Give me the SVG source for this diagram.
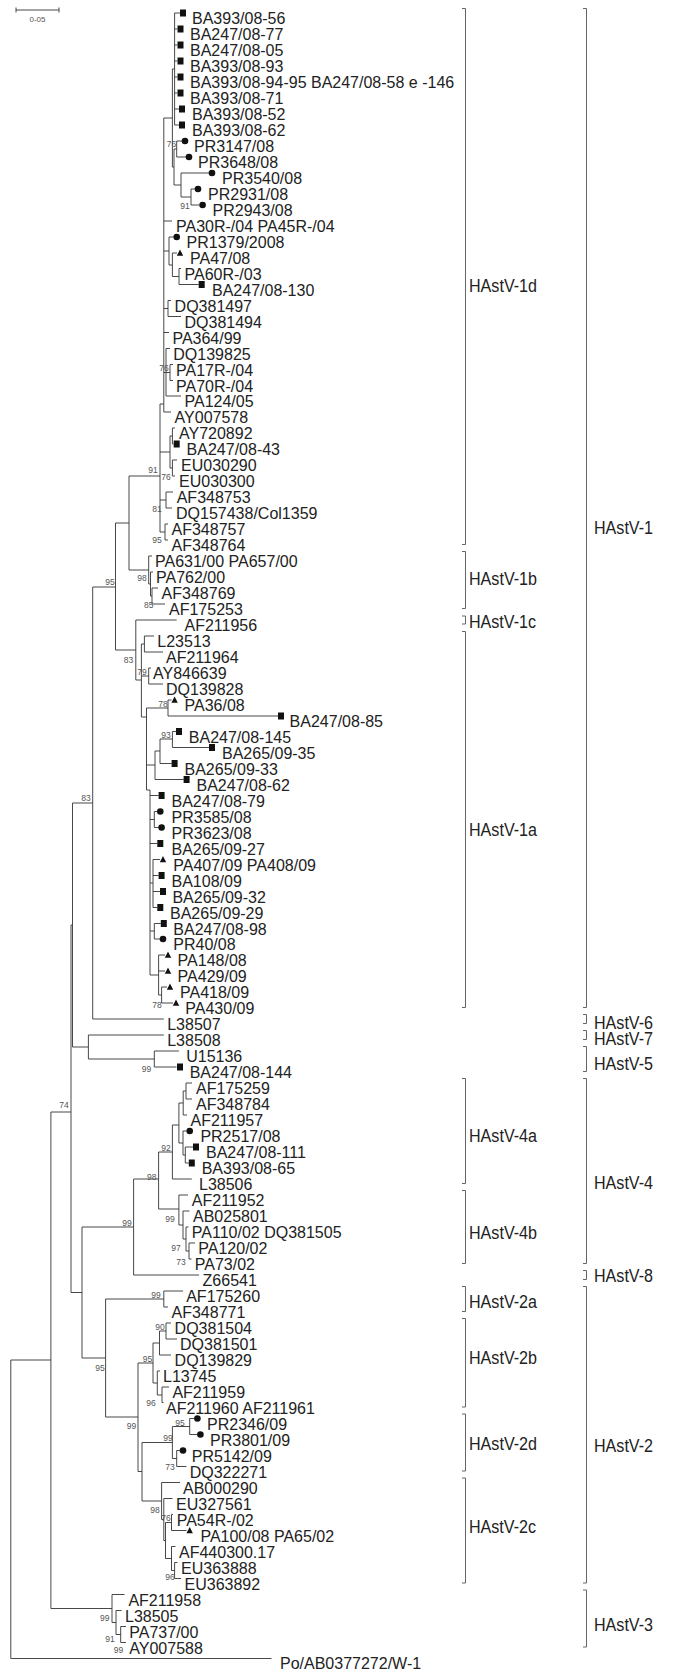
<svg xmlns="http://www.w3.org/2000/svg" width="684" height="1672" viewBox="0 0 684 1672">
<style>
.br{fill:none;stroke:#333;stroke-width:0.9}
.bk{fill:none;stroke:#555;stroke-width:0.9}
.lf{font-family:"Liberation Sans",Arial,sans-serif;font-size:16px;fill:#222}
.cl{font-family:"Liberation Sans",Arial,sans-serif;font-size:17.5px;fill:#222}
.bs{font-family:"Liberation Sans",Arial,sans-serif;font-size:8.5px;fill:#555;text-anchor:middle}
.mk{fill:#111}
</style>
<defs>
<rect id="sq" x="-3" y="-3.5" width="6" height="7"/>
<circle id="ci" r="3.3"/>
<path id="tr" d="M0,-3.6 L3.2,2.8 L-3.2,2.8 Z"/>
</defs>
<rect width="684" height="1672" fill="#fff"/>
<g id="scale-bar">
<path class="br" d="M16 10H59M16 7.5V12.5M59 7.5V12.5"/>
<text x="37.5" y="21.5" class="bs" style="font-size:8px">0-05</text>
</g>
<g id="branches">
<path class="br" d="M10.8 1360V1658.5M10.8 1658.5H271.5M10.8 1360H50.9M50.9 1112V1608.5M50.9 1112H71M50.9 1608.5H112M71 925V1292.5M71 925H72.5M71 1292.5H82M72.5 803V1047M72.5 803H92.7M72.5 1047H88.4M88.4 1035V1059M88.4 1035H163.8M88.4 1059H154.3M154.3 1051V1067M154.3 1051H178.9M154.3 1067H176.5M92.7 587V1019M92.7 1019H163.8M92.7 587H115.5M115.5 523V650M115.5 523H129M115.5 650H135.8M129 476V570M129 476H160M129 570H148.7"/>
<path class="br" d="M148.7 556V584M148.7 556H152M148.7 584H150.5M150.5 572V596M150.5 572H153M150.5 596H152M152 588V604M152 588H158M152 604H165"/>
<path class="br" d="M160 404V532M160 404H163.8M160 452H170M170 436V468M170 436H172.4M170 468H172.4M172.4 428V444M172.4 428H175M172.4 444H173.5M172.4 460V476M172.4 460H177M172.4 476H175M160 500H166M166 492V508M166 492H173M166 508H172M160 532H165M165 524V540M165 524H168M165 540H168M163.8 118V412M163.8 118H172.4M172.4 69V167M172.4 69H174.6M174.6 13V125M174.6 13H180M174.6 29H177.5M174.6 45H177.5M174.6 61H177.5M174.6 77H177.5M174.6 93H177.5M174.6 109H179M174.6 125H179M172.4 167H174M174 149V185M174 149H176.7M176.7 141V157M176.7 141H182M176.7 157H186M174 185H181M181 173V197M181 173H209M181 197H191M191 189V205M191 189H195M191 205H199.5M163.8 221H172M163.8 251H169M169 237V265M169 237H173.5M169 265H172.4M172.4 253V276.5M172.4 253H177M172.4 276.5H179M179 268.5V284.5M179 268.5H181M179 284.5H198.7M163.8 308.5H168M168 300.5V316.5M168 300.5H171M168 316.5H181M163.8 332.5H169M163.8 372.5H166M166 348.5V396M166 348.5H170M166 372.5H170M170 364.5V380.5M170 364.5H173M170 380.5H173M166 396H181M163.8 412H171"/>
<path class="br" d="M135.8 620V680M135.8 620H176.7M135.8 680H141.4M141.4 644V717M141.4 644H144.4M144.4 636V652M144.4 636H154M144.4 652H163M141.4 676H148.7M148.7 668V684M148.7 668H151M148.7 684H163M141.4 717H146.5M146.5 708V790M146.5 708H168M168 700V716M168 700H171.5M168 716H278M146.5 765H155M155 751V779.5M155 751H160M160 739V763.5M160 739H172.4M172.4 731.5V747.5M172.4 731.5H176M172.4 747.5H209M160 763.5H171.6M155 779.5H183.6M146.5 790H150M150 790V975M150 795.5H158.6M150 819.5H154.3M154.3 811.5V827.5M154.3 811.5H157.3M154.3 827.5H158.6M150 843.5H157.3M150 883H153M153 859.5V907.5M153 859.5H160M153 875.5H158.6M153 891.5H160M153 907.5H157.3M150 931H154.3M154.3 923.5V939M154.3 923.5H160.8M154.3 939H160M150 975H158.6M158.6 955V995M158.6 955H165M158.6 971H165M158.6 995H161.6M161.6 987V1003M161.6 987H167M161.6 1003H173"/>
<path class="br" d="M82 1227V1358M82 1227H133.6M82 1358H105.6M133.6 1179V1275M133.6 1179H158.6M133.6 1275H199M158.6 1152V1209M158.6 1152H172.4M158.6 1209H178.9M172.4 1125V1179M172.4 1125H178.9M172.4 1179H191.8M178.9 1103V1143M178.9 1103H183.2M178.9 1143H183M183.2 1091V1115M183.2 1091H186M186 1083V1099M186 1083H192M186 1099H192M183.2 1115H187M183 1131V1155M183 1131H186.5M183 1155H185.3M185.3 1147V1163M185.3 1147H193M185.3 1163H188.8M178.9 1195V1225M178.9 1195H188M178.9 1225H183M183 1211V1239M183 1211H189.5M183 1239H186M186 1227V1251M186 1227H188.5M186 1251H189M189 1243V1259M189 1243H195M189 1259H191.5"/>
<path class="br" d="M105.6 1299V1417M105.6 1299H163.8M105.6 1417H138M163.8 1291V1307M163.8 1291H183M163.8 1307H168M138 1363V1471.5M138 1363H153M138 1471.5H142M153 1343V1383M153 1343H159.5M159.5 1331V1355M159.5 1331H166M166 1323V1339M166 1323H171M166 1339H177M159.5 1355H171M153 1383H157.3M157.3 1371V1395M157.3 1371H160M157.3 1395H162M162 1387V1402.5M162 1387H169M162 1402.5H163.5M142 1442.5V1501M142 1442.5H172.4M142 1501H161.6M172.4 1426.5V1458.5M172.4 1426.5H189.7M189.7 1418.5V1434.5M189.7 1418.5H194.2M189.7 1434.5H197.2M172.4 1458.5H176.7M176.7 1450.5V1466.5M176.7 1450.5H179.8M176.7 1466.5H186.5M161.6 1482.5V1519.5M161.6 1482.5H180M161.6 1519.5H163.8M163.8 1498.5V1540.5M163.8 1498.5H172.5M163.8 1540.5H165.5M165.5 1522.5V1558.5M165.5 1522.5H171.5M171.5 1514.5V1530.5M171.5 1514.5H173M171.5 1530.5H186.5M165.5 1558.5H171.5M171.5 1546.5V1570.5M171.5 1546.5H175.5M171.5 1570.5H174.6M174.6 1562.5V1578.5M174.6 1562.5H177.5M174.6 1578.5H181"/>
<path class="br" d="M112 1594.5V1622.5M112 1594.5H124.5M112 1622.5H116M116 1610.5V1634.5M116 1610.5H121.5M116 1634.5H120.7M120.7 1626.5V1642.5M120.7 1626.5H126M120.7 1642.5H126"/>
</g>
<g id="bootstrap">
<text class="bs" x="171.5" y="147">76</text>
<text class="bs" x="185" y="208.7">91</text>
<text class="bs" x="164" y="371">76</text>
<text class="bs" x="153" y="473">91</text>
<text class="bs" x="166" y="480">76</text>
<text class="bs" x="157" y="512">81</text>
<text class="bs" x="157" y="543">95</text>
<text class="bs" x="142" y="581">98</text>
<text class="bs" x="148.7" y="608">85</text>
<text class="bs" x="110" y="585">95</text>
<text class="bs" x="128.4" y="663">83</text>
<text class="bs" x="142" y="674.7">79</text>
<text class="bs" x="163" y="707">78</text>
<text class="bs" x="166" y="738">93</text>
<text class="bs" x="86" y="801">83</text>
<text class="bs" x="157" y="1008">78</text>
<text class="bs" x="146.5" y="1072">99</text>
<text class="bs" x="64" y="1108">74</text>
<text class="bs" x="166" y="1151">92</text>
<text class="bs" x="151.7" y="1179.7">98</text>
<text class="bs" x="127" y="1226">99</text>
<text class="bs" x="170" y="1222">99</text>
<text class="bs" x="176" y="1251">97</text>
<text class="bs" x="181" y="1264.7">73</text>
<text class="bs" x="156" y="1298">99</text>
<text class="bs" x="160" y="1329.7">90</text>
<text class="bs" x="147.4" y="1362">95</text>
<text class="bs" x="100" y="1371">95</text>
<text class="bs" x="151" y="1406">96</text>
<text class="bs" x="180" y="1425.7">95</text>
<text class="bs" x="131.5" y="1428.7">99</text>
<text class="bs" x="168" y="1441">99</text>
<text class="bs" x="170" y="1469.7">73</text>
<text class="bs" x="155" y="1513">98</text>
<text class="bs" x="166" y="1521">76</text>
<text class="bs" x="170" y="1580">96</text>
<text class="bs" x="104.7" y="1621">99</text>
<text class="bs" x="110" y="1641.7">91</text>
<text class="bs" x="118.5" y="1653">99</text>
</g>
<g id="leaves" class="lf">
<g id="n1"><use href="#sq" class="mk" x="183" y="13"/><text x="192" y="24">BA393/08-56</text></g>
<g id="n2"><use href="#sq" class="mk" x="180.5" y="29"/><text x="190" y="40">BA247/08-77</text></g>
<g id="n3"><use href="#sq" class="mk" x="180.5" y="45"/><text x="190" y="56">BA247/08-05</text></g>
<g id="n4"><use href="#sq" class="mk" x="180.5" y="61"/><text x="190" y="72">BA393/08-93</text></g>
<g id="n5"><use href="#sq" class="mk" x="180.5" y="77"/><text x="190" y="88">BA393/08-94-95 BA247/08-58 e -146</text></g>
<g id="n6"><use href="#sq" class="mk" x="180.5" y="93"/><text x="190" y="104">BA393/08-71</text></g>
<g id="n7"><use href="#sq" class="mk" x="182" y="109"/><text x="192" y="120">BA393/08-52</text></g>
<g id="n8"><use href="#sq" class="mk" x="182" y="125"/><text x="192" y="136">BA393/08-62</text></g>
<g id="n9"><use href="#ci" class="mk" x="185" y="141"/><text x="194" y="152">PR3147/08</text></g>
<g id="n10"><use href="#ci" class="mk" x="189" y="157"/><text x="198" y="168">PR3648/08</text></g>
<g id="n11"><use href="#ci" class="mk" x="212" y="173"/><text x="222" y="184">PR3540/08</text></g>
<g id="n12"><use href="#ci" class="mk" x="198" y="189"/><text x="208" y="200">PR2931/08</text></g>
<g id="n13"><use href="#ci" class="mk" x="202.6" y="205"/><text x="212.5" y="216">PR2943/08</text></g>
<g id="n14"><text x="176" y="232">PA30R-/04 PA45R-/04</text></g>
<g id="n15"><use href="#ci" class="mk" x="176.7" y="237"/><text x="186.6" y="248">PR1379/2008</text></g>
<g id="n16"><use href="#tr" class="mk" x="180" y="253"/><text x="190" y="264">PA47/08</text></g>
<g id="n17"><text x="184.5" y="279.5">PA60R-/03</text></g>
<g id="n18"><use href="#sq" class="mk" x="201.7" y="284.5"/><text x="212" y="295.5">BA247/08-130</text></g>
<g id="n19"><text x="174.6" y="311.5">DQ381497</text></g>
<g id="n20"><text x="184.5" y="327.5">DQ381494</text></g>
<g id="n21"><text x="172.4" y="343.5">PA364/99</text></g>
<g id="n22"><text x="173.3" y="359.5">DQ139825</text></g>
<g id="n23"><text x="176" y="375.5">PA17R-/04</text></g>
<g id="n24"><text x="176" y="391.5">PA70R-/04</text></g>
<g id="n25"><text x="184.5" y="407">PA124/05</text></g>
<g id="n26"><text x="174.6" y="423">AY007578</text></g>
<g id="n27"><text x="179" y="439">AY720892</text></g>
<g id="n28"><use href="#sq" class="mk" x="176.7" y="444"/><text x="186.6" y="455">BA247/08-43</text></g>
<g id="n29"><text x="181" y="471">EU030290</text></g>
<g id="n30"><text x="179" y="487">EU030300</text></g>
<g id="n31"><text x="176.7" y="503">AF348753</text></g>
<g id="n32"><text x="176" y="519">DQ157438/Col1359</text></g>
<g id="n33"><text x="171.5" y="535">AF348757</text></g>
<g id="n34"><text x="171.5" y="551">AF348764</text></g>
<g id="n35"><text x="155" y="567">PA631/00 PA657/00</text></g>
<g id="n36"><text x="156" y="583">PA762/00</text></g>
<g id="n37"><text x="161.6" y="599">AF348769</text></g>
<g id="n38"><text x="169" y="615">AF175253</text></g>
<g id="n39"><text x="184.5" y="631">AF211956</text></g>
<g id="n40"><text x="157.3" y="647">L23513</text></g>
<g id="n41"><text x="166" y="663">AF211964</text></g>
<g id="n42"><text x="153" y="679">AY846639</text></g>
<g id="n43"><text x="166" y="695">DQ139828</text></g>
<g id="n44"><use href="#tr" class="mk" x="174.6" y="700"/><text x="184.5" y="711">PA36/08</text></g>
<g id="n45"><use href="#sq" class="mk" x="281" y="716"/><text x="289.6" y="727">BA247/08-85</text></g>
<g id="n46"><use href="#sq" class="mk" x="179" y="731.5"/><text x="188.8" y="742.5">BA247/08-145</text></g>
<g id="n47"><use href="#sq" class="mk" x="212" y="747.5"/><text x="222" y="758.5">BA265/09-35</text></g>
<g id="n48"><use href="#sq" class="mk" x="174.6" y="763.5"/><text x="184.5" y="774.5">BA265/09-33</text></g>
<g id="n49"><use href="#sq" class="mk" x="186.6" y="779.5"/><text x="196.5" y="790.5">BA247/08-62</text></g>
<g id="n50"><use href="#sq" class="mk" x="161.6" y="795.5"/><text x="171.5" y="806.5">BA247/08-79</text></g>
<g id="n51"><use href="#ci" class="mk" x="160.3" y="811.5"/><text x="171.5" y="822.5">PR3585/08</text></g>
<g id="n52"><use href="#ci" class="mk" x="161.6" y="827.5"/><text x="171.5" y="838.5">PR3623/08</text></g>
<g id="n53"><use href="#sq" class="mk" x="160.3" y="843.5"/><text x="171.5" y="854.5">BA265/09-27</text></g>
<g id="n54"><use href="#tr" class="mk" x="163" y="859.5"/><text x="173.3" y="870.5">PA407/09 PA408/09</text></g>
<g id="n55"><use href="#sq" class="mk" x="161.6" y="875.5"/><text x="171.5" y="886.5">BA108/09</text></g>
<g id="n56"><use href="#sq" class="mk" x="163" y="891.5"/><text x="172.4" y="902.5">BA265/09-32</text></g>
<g id="n57"><use href="#sq" class="mk" x="160.3" y="907.5"/><text x="170" y="918.5">BA265/09-29</text></g>
<g id="n58"><use href="#sq" class="mk" x="163.8" y="923.5"/><text x="173.3" y="934.5">BA247/08-98</text></g>
<g id="n59"><use href="#ci" class="mk" x="163" y="939"/><text x="173.3" y="950">PR40/08</text></g>
<g id="n60"><use href="#tr" class="mk" x="168" y="955"/><text x="177.6" y="966">PA148/08</text></g>
<g id="n61"><use href="#tr" class="mk" x="168" y="971"/><text x="177.6" y="982">PA429/09</text></g>
<g id="n62"><use href="#tr" class="mk" x="170" y="987"/><text x="180" y="998">PA418/09</text></g>
<g id="n63"><use href="#tr" class="mk" x="176" y="1003"/><text x="185.3" y="1014">PA430/09</text></g>
<g id="n64"><text x="167.2" y="1030">L38507</text></g>
<g id="n65"><text x="167.2" y="1046">L38508</text></g>
<g id="n66"><text x="186.2" y="1062">U15136</text></g>
<g id="n67"><use href="#sq" class="mk" x="180" y="1067"/><text x="189.7" y="1078">BA247/08-144</text></g>
<g id="n68"><text x="196" y="1094">AF175259</text></g>
<g id="n69"><text x="196" y="1110">AF348784</text></g>
<g id="n70"><text x="190.5" y="1126">AF211957</text></g>
<g id="n71"><use href="#ci" class="mk" x="189.7" y="1131"/><text x="200.4" y="1142">PR2517/08</text></g>
<g id="n72"><use href="#sq" class="mk" x="196" y="1147"/><text x="206" y="1158">BA247/08-111</text></g>
<g id="n73"><use href="#sq" class="mk" x="191.8" y="1163"/><text x="201.7" y="1174">BA393/08-65</text></g>
<g id="n74"><text x="199" y="1190">L38506</text></g>
<g id="n75"><text x="191.8" y="1206">AF211952</text></g>
<g id="n76"><text x="193" y="1222">AB025801</text></g>
<g id="n77"><text x="191.8" y="1238">PA110/02 DQ381505</text></g>
<g id="n78"><text x="198.3" y="1254">PA120/02</text></g>
<g id="n79"><text x="194.8" y="1270">PA73/02</text></g>
<g id="n80"><text x="202.6" y="1286">Z66541</text></g>
<g id="n81"><text x="186.2" y="1302">AF175260</text></g>
<g id="n82"><text x="171.5" y="1318">AF348771</text></g>
<g id="n83"><text x="174.6" y="1334">DQ381504</text></g>
<g id="n84"><text x="180" y="1350">DQ381501</text></g>
<g id="n85"><text x="174.6" y="1366">DQ139829</text></g>
<g id="n86"><text x="163" y="1382">L13745</text></g>
<g id="n87"><text x="172.4" y="1398">AF211959</text></g>
<g id="n88"><text x="166" y="1413.5">AF211960 AF211961</text></g>
<g id="n89"><use href="#ci" class="mk" x="197.4" y="1418.5"/><text x="207" y="1429.5">PR2346/09</text></g>
<g id="n90"><use href="#ci" class="mk" x="200.4" y="1434.5"/><text x="210" y="1445.5">PR3801/09</text></g>
<g id="n91"><use href="#ci" class="mk" x="183" y="1450.5"/><text x="191.8" y="1461.5">PR5142/09</text></g>
<g id="n92"><text x="189.7" y="1477.5">DQ322271</text></g>
<g id="n93"><text x="183" y="1493.5">AB000290</text></g>
<g id="n94"><text x="176" y="1509.5">EU327561</text></g>
<g id="n95"><text x="176.7" y="1525.5">PA54R-/02</text></g>
<g id="n96"><use href="#tr" class="mk" x="189.7" y="1530.5"/><text x="200.4" y="1541.5">PA100/08 PA65/02</text></g>
<g id="n97"><text x="179" y="1557.5">AF440300.17</text></g>
<g id="n98"><text x="181" y="1573.5">EU363888</text></g>
<g id="n99"><text x="184.5" y="1589.5">EU363892</text></g>
<g id="n100"><text x="128.4" y="1605.5">AF211958</text></g>
<g id="n101"><text x="125" y="1621.5">L38505</text></g>
<g id="n102"><text x="129.3" y="1637.5">PA737/00</text></g>
<g id="n103"><text x="129.3" y="1653.5">AY007588</text></g>
<g id="n104"><text x="280" y="1669.3">Po/AB0377272/W-1</text></g>
</g>
<g id="clades">
<g id="c1d"><path class="bk" d="M462 8.5H465.5V544.5H462"/><text class="cl" x="469" y="291.5" textLength="68" lengthAdjust="spacingAndGlyphs">HAstV-1d</text></g>
<g id="c1b"><path class="bk" d="M462 551.5H465.5V608.5H462"/><text class="cl" x="469" y="584.5" textLength="68" lengthAdjust="spacingAndGlyphs">HAstV-1b</text></g>
<g id="c1c"><path class="bk" d="M462 616H465.5V624H462"/><text class="cl" x="469" y="628" textLength="67" lengthAdjust="spacingAndGlyphs">HAstV-1c</text></g>
<g id="c1a"><path class="bk" d="M462 631.5H465.5V1007.5H462"/><text class="cl" x="469" y="835.5" textLength="68" lengthAdjust="spacingAndGlyphs">HAstV-1a</text></g>
<g id="c4a"><path class="bk" d="M462 1078.5H465.5V1183.5H462"/><text class="cl" x="469" y="1141.5" textLength="68" lengthAdjust="spacingAndGlyphs">HAstV-4a</text></g>
<g id="c4b"><path class="bk" d="M462 1190.5H465.5V1263.5H462"/><text class="cl" x="469" y="1238.5" textLength="68" lengthAdjust="spacingAndGlyphs">HAstV-4b</text></g>
<g id="c2a"><path class="bk" d="M462 1286.5H465.5V1311.5H462"/><text class="cl" x="469" y="1308" textLength="68" lengthAdjust="spacingAndGlyphs">HAstV-2a</text></g>
<g id="c2b"><path class="bk" d="M462 1318.5H465.5V1407H462"/><text class="cl" x="469" y="1364" textLength="68" lengthAdjust="spacingAndGlyphs">HAstV-2b</text></g>
<g id="c2d"><path class="bk" d="M462 1414H465.5V1471H462"/><text class="cl" x="469" y="1449.5" textLength="68" lengthAdjust="spacingAndGlyphs">HAstV-2d</text></g>
<g id="c2c"><path class="bk" d="M462 1478H465.5V1583H462"/><text class="cl" x="469" y="1533" textLength="67" lengthAdjust="spacingAndGlyphs">HAstV-2c</text></g>
<g id="g1"><path class="bk" d="M583 8.5H586.5V1007.5H583"/><text class="cl" x="594" y="533.5" textLength="59" lengthAdjust="spacingAndGlyphs">HAstV-1</text></g>
<g id="g6"><path class="bk" d="M583 1014.5H586.5V1023.5H583"/><text class="cl" x="594" y="1028.5" textLength="59" lengthAdjust="spacingAndGlyphs">HAstV-6</text></g>
<g id="g7"><path class="bk" d="M583 1030.5H586.5V1039.5H583"/><text class="cl" x="594" y="1045" textLength="59" lengthAdjust="spacingAndGlyphs">HAstV-7</text></g>
<g id="g5"><path class="bk" d="M583 1046.5H586.5V1071.5H583"/><text class="cl" x="594" y="1070" textLength="59" lengthAdjust="spacingAndGlyphs">HAstV-5</text></g>
<g id="g4"><path class="bk" d="M583 1078.5H586.5V1263.5H583"/><text class="cl" x="594" y="1189" textLength="59" lengthAdjust="spacingAndGlyphs">HAstV-4</text></g>
<g id="g8"><path class="bk" d="M583 1270.5H586.5V1279.5H583"/><text class="cl" x="594" y="1281.5" textLength="59" lengthAdjust="spacingAndGlyphs">HAstV-8</text></g>
<g id="g2"><path class="bk" d="M583 1286.5H586.5V1583H583"/><text class="cl" x="594" y="1451.5" textLength="59" lengthAdjust="spacingAndGlyphs">HAstV-2</text></g>
<g id="g3"><path class="bk" d="M583 1590H586.5V1647H583"/><text class="cl" x="594" y="1631" textLength="59" lengthAdjust="spacingAndGlyphs">HAstV-3</text></g>
</g>
</svg>
